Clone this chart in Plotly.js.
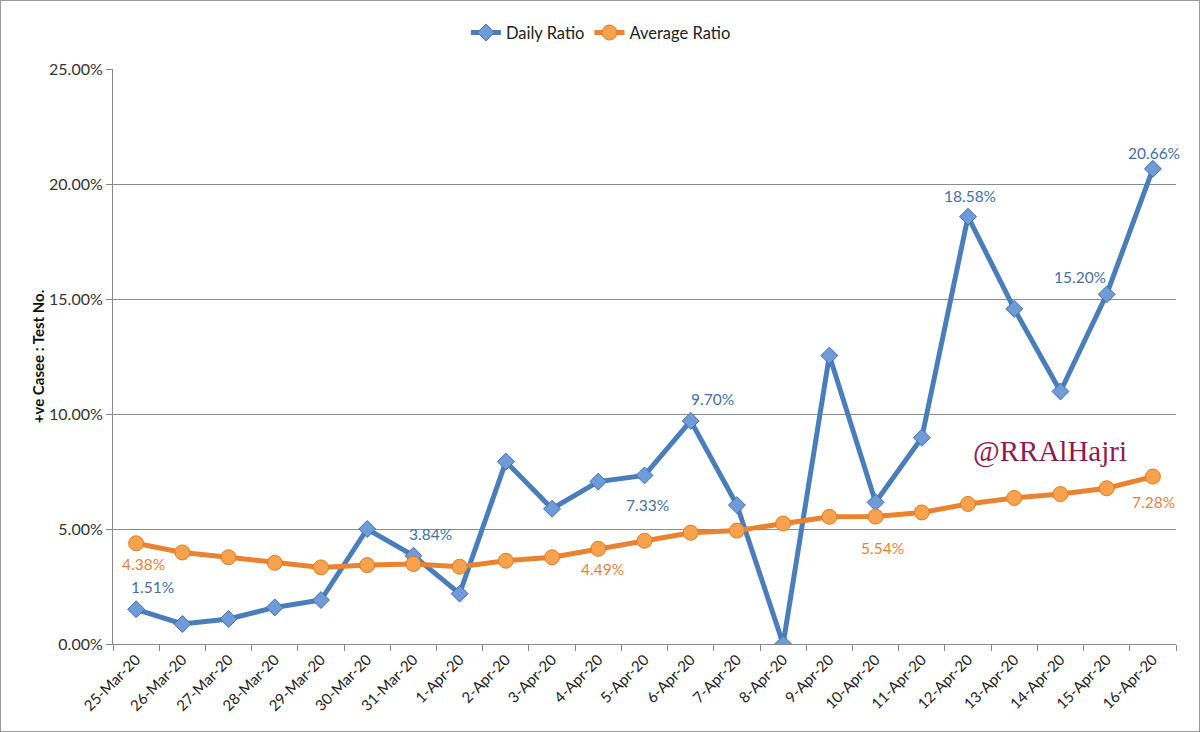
<!DOCTYPE html>
<html>
<head>
<meta charset="utf-8">
<script src="https://cdn.plot.ly/plotly-3.0.1.min.js"></script>
<style>
html,body{margin:0;padding:0;background:#fff;}
#chart{width:1200px;height:732px;box-sizing:border-box;border:1px solid #9a9a9a;}
</style>
</head>
<body>
<div id="chart"></div>
<script>
const dates = ["25-Mar-20","26-Mar-20","27-Mar-20","28-Mar-20","29-Mar-20","30-Mar-20","31-Mar-20",
  "1-Apr-20","2-Apr-20","3-Apr-20","4-Apr-20","5-Apr-20","6-Apr-20","7-Apr-20","8-Apr-20","9-Apr-20",
  "10-Apr-20","11-Apr-20","12-Apr-20","13-Apr-20","14-Apr-20","15-Apr-20","16-Apr-20"];
const dailyRatio = [1.51,0.87,1.09,1.59,1.91,5.00,3.84,2.19,7.93,5.88,7.06,7.33,9.70,6.04,0.00,12.54,
  6.16,8.97,18.58,14.57,10.98,15.20,20.66];
const averageRatio = [4.38,3.98,3.77,3.53,3.33,3.43,3.48,3.36,3.62,3.77,4.14,4.49,4.84,4.93,5.24,5.53,
  5.54,5.72,6.09,6.35,6.52,6.77,7.28];
const dailyLabels = ["1.51%","","","","","","3.84%","","","","","7.33%","9.70%","","","","","","18.58%","","","15.20%","20.66%"];
const averageLabels = ["4.38%","","","","","","","","","","4.49%","","","","","","5.54%","","","","","","7.28%"];
const yTickVals = [0,5,10,15,20,25];
const yTickText = ["0.00%","5.00%","10.00%","15.00%","20.00%","25.00%"];

const font = "Lato, 'Open Sans', sans-serif";
const blue = "#4a7ebb", orange = "#ea8330";

// label offsets (styling)
const dailyOff = {0:[16,22],6:[17,22],11:[3,-30],12:[22,22],18:[2,21],21:[-27,17],22:[1,16]};
const avgOff = {0:[7,-21],10:[4,-20],16:[7,-31],22:[1,-25]};

const annotations = [];
dailyLabels.forEach((t,i)=>{
  if(!t) return;
  const o = dailyOff[i]||[0,20];
  annotations.push({x:dates[i],y:dailyRatio[i],xref:'x',yref:'y',text:t,showarrow:false,
    xanchor:'center',yanchor:'middle',
    xshift:o[0],yshift:o[1],font:{family:font,size:15.5,color:"#4470a8"}});
});
averageLabels.forEach((t,i)=>{
  if(!t) return;
  const o = avgOff[i]||[0,-20];
  annotations.push({x:dates[i],y:averageRatio[i],xref:'x',yref:'y',text:t,showarrow:false,
    xanchor:'center',yanchor:'middle',
    xshift:o[0],yshift:o[1],font:{family:font,size:15.5,color:"#e8843a"}});
});
annotations.push({xref:'paper',yref:'paper',x:0.881,y:0.334,xanchor:'center',yanchor:'middle',
  text:"@RRAlHajri",showarrow:false,
  font:{family:"'Liberation Serif','DejaVu Serif',serif",size:29,color:"#8e1b4c"}});

const traces = [
  {x:dates,y:dailyRatio,type:'scatter',mode:'lines+markers',name:'Daily Ratio',
   line:{color:blue,width:5},
   marker:{symbol:'diamond',size:13,color:'#6f9bd8',line:{color:'#3e6eb0',width:1}}},
  {x:dates,y:averageRatio,type:'scatter',mode:'lines+markers',name:'Average Ratio',
   line:{color:orange,width:5},
   marker:{symbol:'circle',size:15,color:'#f8a24e',line:{color:'#e07c22',width:1}}}
];

const layout = {
  width:1198,height:730,
  margin:{l:112,r:23,t:68,b:87},
  paper_bgcolor:'#fff',plot_bgcolor:'#fff',
  font:{family:font,size:14,color:'#222'},
  showlegend:true,
  legend:{orientation:'h',x:0.459,xanchor:'center',y:1.063,yanchor:'middle',font:{family:font,size:16.5,color:'#222'}},
  xaxis:{type:'category',tickson:'boundaries',ticks:'outside',ticklen:6,tickcolor:'#888',
    showline:true,linecolor:'#888',linewidth:1,showgrid:false,tickangle:-45,
    tickfont:{family:font,size:15,color:'#222'},range:[-0.5,22.5]},
  yaxis:{range:[0,25],tickvals:yTickVals,ticktext:yTickText,ticks:'outside',ticklen:6,tickcolor:'#888',
    showline:true,linecolor:'#888',linewidth:1,showgrid:true,gridcolor:'#8c8c8c',gridwidth:1,zeroline:false,
    tickfont:{family:font,size:16,color:'#333'},
    title:{text:'<b>+ve Casee : Test No.</b>',font:{family:font,size:15,color:'#111'},standoff:0}},
  annotations:annotations
};
Plotly.newPlot('chart',traces,layout,{displayModeBar:false});
</script>
</body>
</html>
